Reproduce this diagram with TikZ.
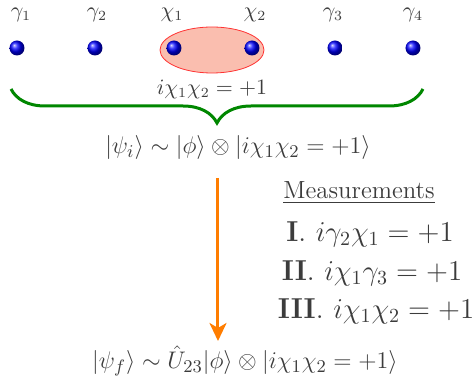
\documentclass[tikz,border=0pt]{standalone}
\usepackage{amsmath}
\usepackage{tikz}
\usetikzlibrary{arrows.meta,positioning,calc,shapes.geometric,decorations.pathreplacing}

\definecolor{textgray}{RGB}{60,60,60}
\definecolor{pairred}{RGB}{250,190,175}
\definecolor{bracegreen}{RGB}{0,135,0}
\definecolor{arroworange}{RGB}{255,125,0}

\tikzset{
  majorana/.style={circle, inner sep=0pt, minimum size=7.5pt, ball color=blue},
  mlabel/.style={text=textgray, font=\fontsize{10.5}{12}\selectfont},
  eqn/.style={text=textgray, font=\fontsize{12.8}{15}\selectfont},
  meas/.style={text=textgray, font=\Large},
}

\begin{document}
\begin{tikzpicture}[x=0.5pt, y=-0.5pt]
  \useasboundingbox (0,0) rectangle (473,379);

  % Pair chi_1 chi_2
  \node[ellipse, draw=red!80, fill=pairred, minimum width=52pt, minimum height=23pt, inner sep=0pt] (pair) at (212,50) {};

  % Majorana modes
  \node[majorana] (g1) at (17,48) {};
  \node[majorana] (g2) at (95,48) {};
  \node[majorana] (c1) at (174,48) {};
  \node[majorana] (c2) at (252,48) {};
  \node[majorana] (g3) at (335,48) {};
  \node[majorana] (g4) at (413,48) {};

  \node[mlabel] (lg1) at (21,15) {$\gamma_1$};
  \node[mlabel] (lg2) at (97,15) {$\gamma_2$};
  \node[mlabel] (lc1) at (172,15) {$\chi_1$};
  \node[mlabel] (lc2) at (255,15) {$\chi_2$};
  \node[mlabel] (lg3) at (333,15) {$\gamma_3$};
  \node[mlabel] (lg4) at (413,15) {$\gamma_4$};

  \node[mlabel] (parity) at (212,89) {$i\chi_1\chi_2=+1$};

  % Brace
  \coordinate (bl) at (11,89);
  \coordinate (br) at (423,89);
  \draw[bracegreen, line width=1.5pt, decorate, decoration={brace, mirror, amplitude=17pt}] (bl) -- (br);

  % States
  \node[eqn] (psii) at (238,148) {$|\psi_i\rangle \sim |\phi\rangle \otimes |i\chi_1\chi_2=+1\rangle$};
  \node[eqn] (psif) at (245,361) {$|\psi_f\rangle \sim \hat{U}_{23}|\phi\rangle \otimes |i\chi_1\chi_2=+1\rangle$};

  % Evolution
  \coordinate (astart) at (218,178);
  \coordinate (aend) at (218,341);
  \draw[arroworange, line width=1.5pt, -{Stealth[length=9pt, width=8.5pt, inset=2.5pt]}] (astart) -- (aend);

  % Measurements
  \node[text=textgray, font=\fontsize{12.4}{15}\selectfont] (mtitle) at (359,193) {\underline{Measurements}};
  \node[meas] (m1) at (370,234) {\textbf{I}.\,\,$i\gamma_2\chi_1=+1$};
  \node[meas] (m2) at (372,273) {\textbf{II}.\,\,$i\chi_1\gamma_3=+1$};
  \node[meas] (m3) at (376,311) {\textbf{III}.\,\,$i\chi_1\chi_2=+1$};
\end{tikzpicture}
\end{document}
